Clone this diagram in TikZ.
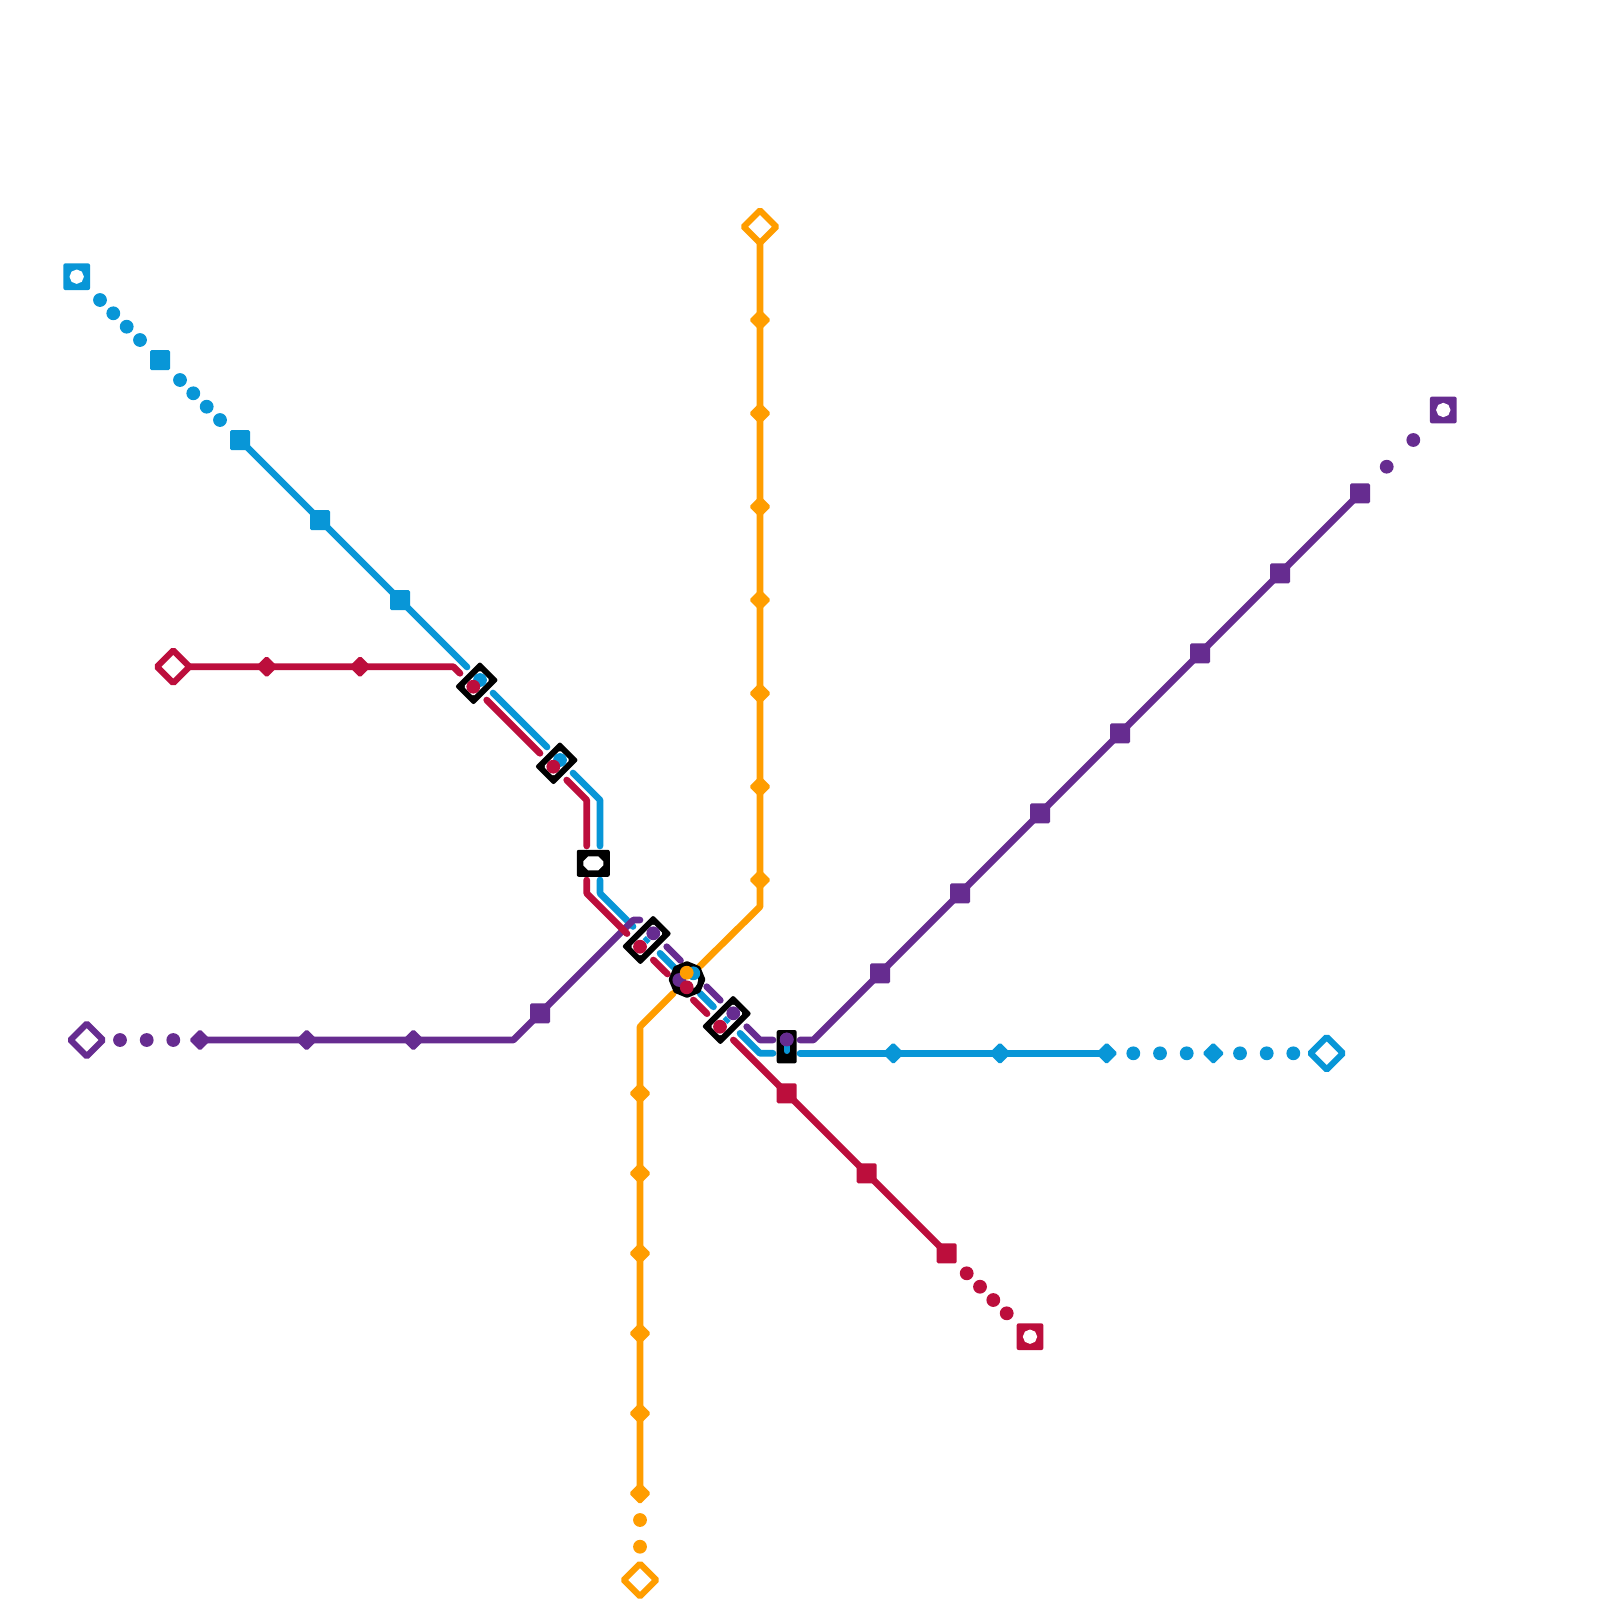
\documentclass[tikz,border=0pt]{standalone}
\usetikzlibrary{shapes.geometric}
\definecolor{lblue}{HTML}{0896D7}
\definecolor{lred}{HTML}{BC0E3C}
\definecolor{lpurple}{HTML}{662C90}
\definecolor{lorange}{HTML}{FF9D00}
\tikzset{
  route/.style={line width=6.67pt,line cap=round,line join=round},
  sq/.style={rectangle,fill=#1,draw=none,minimum size=20pt,inner sep=0pt,rounded corners=1.5pt},
  dia/.style={rectangle,fill=#1,draw=none,minimum size=15.5pt,inner sep=0pt,rounded corners=1.8pt,rotate=45},
  dot/.style={circle,fill=#1,draw=none,minimum size=13.8pt,inner sep=0pt},
  hdia/.style={rectangle,fill=white,draw=#1,line width=6.2pt,minimum size=23pt,inner sep=0pt,rounded corners=1.2pt,rotate=45},
  term/.style={rectangle,fill=#1,draw=none,minimum size=26.7pt,inner sep=0pt,rounded corners=2pt},
  termhole/.style={regular polygon,regular polygon sides=8,shape border rotate=22.5,fill=white,draw=none,minimum size=14.4pt,inner sep=0pt},
  stn/.style={rectangle,fill=black,draw=none,inner sep=0pt,rounded corners=2pt},
  stnhole/.style={rectangle,fill=white,draw=none,inner sep=0pt,rounded corners=1.5pt},
}
\begin{document}
\begin{tikzpicture}[x=1pt,y=-1pt]
\useasboundingbox (0,0) rectangle (1600,1600);
\fill[white] (0,0) rectangle (1600,1600);

% orange line
\coordinate (o1) at (760,226.7);
\coordinate (o2) at (760,906.7);
\coordinate (o3) at (699.3,966.7);
\coordinate (o4) at (673.3,993.3);
\coordinate (o5) at (640,1026.7);
\coordinate (o6) at (640,1493.3);
\draw[route,lorange] (o1) -- (o2) -- (o3);
\draw[route,lorange] (o4) -- (o5) -- (o6);

% blue line
\coordinate (b1) at (240,440);
\coordinate (b2) at (467,667);
\coordinate (b3) at (493,693);
\coordinate (b4) at (547,747);
\coordinate (b5) at (573,773);
\coordinate (b6) at (600,800);
\coordinate (b7) at (600,846);
\coordinate (b8) at (600,880);
\coordinate (b9) at (600,893.3);
\coordinate (b10) at (633,926.5);
\coordinate (b11) at (660,953.3);
\coordinate (b12) at (674,967.3);
\coordinate (b13) at (700,993.3);
\coordinate (b14) at (713.5,1006.8);
\coordinate (b15) at (740,1033.3);
\coordinate (b16) at (760,1053.3);
\coordinate (b17) at (773,1053.3);
\coordinate (b18) at (800,1053.3);
\coordinate (b19) at (1106.7,1053.3);
\draw[route,lblue] (b1) -- (b2);
\draw[route,lblue] (b3) -- (b4);
\draw[route,lblue] (b5) -- (b6) -- (b7);
\draw[route,lblue] (b8) -- (b9) -- (b10);
\draw[route,lblue] (b11) -- (b12);
\draw[route,lblue] (b13) -- (b14);
\draw[route,lblue] (b15) -- (b16) -- (b17);
\draw[route,lblue] (b18) -- (b19);

% purple line
\coordinate (p1) at (200,1040);
\coordinate (p2) at (513.3,1040);
\coordinate (p3) at (633.3,920);
\coordinate (p4) at (640,920);
\coordinate (p5) at (666.7,946.7);
\coordinate (p6) at (680.5,960.5);
\coordinate (p7) at (706.7,986.7);
\coordinate (p8) at (720.3,1000.3);
\coordinate (p9) at (746.7,1026.7);
\coordinate (p10) at (760,1040);
\coordinate (p11) at (773,1040);
\coordinate (p12) at (800,1040);
\coordinate (p13) at (813.3,1040);
\coordinate (p14) at (1360,493.3);
\draw[route,lpurple] (p1) -- (p2) -- (p3) -- (p4);
\draw[route,lpurple] (p5) -- (p6);
\draw[route,lpurple] (p7) -- (p8);
\draw[route,lpurple] (p9) -- (p10) -- (p11);
\draw[route,lpurple] (p12) -- (p13) -- (p14);

% red line
\coordinate (r1) at (173.3,666.7);
\coordinate (r2) at (453.3,666.7);
\coordinate (r3) at (460,673.3);
\coordinate (r4) at (486.7,700);
\coordinate (r5) at (540,753.3);
\coordinate (r6) at (566.7,780);
\coordinate (r7) at (586.7,800);
\coordinate (r8) at (586.7,846);
\coordinate (r9) at (586.7,880);
\coordinate (r10) at (586.7,893.3);
\coordinate (r11) at (627,933.6);
\coordinate (r12) at (653.3,960);
\coordinate (r13) at (667.5,974);
\coordinate (r14) at (693.3,1000);
\coordinate (r15) at (707,1013.7);
\coordinate (r16) at (733.3,1040);
\coordinate (r17) at (946.7,1253.3);
\draw[route,lred] (r1) -- (r2) -- (r3);
\draw[route,lred] (r4) -- (r5);
\draw[route,lred] (r6) -- (r7) -- (r8);
\draw[route,lred] (r9) -- (r10) -- (r11);
\draw[route,lred] (r12) -- (r13);
\draw[route,lred] (r14) -- (r15);
\draw[route,lred] (r16) -- (r17);

% blue stops
\node[term=lblue] (bt) at (76.7,276.7) {};
\node[termhole] (bth) at (bt) {};
\foreach \x/\y [count=\i] in {100/300,113.3/313.3,126.7/326.7,140/340,180/380,193.3/393.3,206.7/406.7,220/420,1133.3/1053.3,1160/1053.3,1186.7/1053.3,1240/1053.3,1266.7/1053.3,1293.3/1053.3}
  \node[dot=lblue] (bd\i) at (\x,\y) {};
\foreach \x/\y [count=\i] in {160/360,240/440,320/520,400/600}
  \node[sq=lblue] (bs\i) at (\x,\y) {};
\foreach \x [count=\i] in {893.3,1000,1106.7,1213.3}
  \node[dia=lblue] (bm\i) at (\x,1053.3) {};
\node[hdia=lblue] (bh) at (1326.7,1053.3) {};

% red stops
\node[hdia=lred] (rh) at (173.3,666.7) {};
\foreach \x [count=\i] in {266.7,360}
  \node[dia=lred] (rm\i) at (\x,666.7) {};
\foreach \x/\y [count=\i] in {786.7/1093.3,866.7/1173.3,946.7/1253.3}
  \node[sq=lred] (rs\i) at (\x,\y) {};
\foreach \x/\y [count=\i] in {966.7/1273.3,980/1286.7,993.3/1300,1006.7/1313.3}
  \node[dot=lred] (rd\i) at (\x,\y) {};
\node[term=lred] (rt) at (1030,1336.7) {};
\node[termhole] (rth) at (rt) {};

% purple stops
\node[hdia=lpurple] (ph) at (86.7,1040) {};
\foreach \x [count=\i] in {120,146.7,173.3}
  \node[dot=lpurple] (pd\i) at (\x,1040) {};
\foreach \x [count=\i] in {200,306.7,413.3}
  \node[dia=lpurple] (pm\i) at (\x,1040) {};
\foreach \x/\y [count=\i] in {540/1013.3,880/973.3,960/893.3,1040/813.3,1120/733.3,1200/653.3,1280/573.3,1360/493.3}
  \node[sq=lpurple] (ps\i) at (\x,\y) {};
\foreach \x/\y [count=\i] in {1386.7/466.7,1413.3/440}
  \node[dot=lpurple] (pe\i) at (\x,\y) {};
\node[term=lpurple] (pt) at (1443.3,410) {};
\node[termhole] (pth) at (pt) {};

% orange stops
\node[hdia=lorange] (oh1) at (760,226.7) {};
\foreach \y [count=\i] in {320,413.3,506.7,600,693.3,786.7,880}
  \node[dia=lorange] (om\i) at (760,\y) {};
\foreach \y [count=\i] in {1093.3,1173.3,1253.3,1333.3,1413.3,1493.3}
  \node[dia=lorange] (on\i) at (640,\y) {};
\foreach \y [count=\i] in {1520,1546.7}
  \node[dot=lorange] (od\i) at (640,\y) {};
\node[hdia=lorange] (oh2) at (640,1580) {};

% interchange 1
\node[stn,rotate=45,minimum width=35pt,minimum height=26pt] (x1) at (476.7,683.3) {};
\node[stnhole,rotate=45,minimum width=23pt,minimum height=13.6pt] (x1h) at (x1) {};
\node[dot=lblue] (x1b) at (480,680) {};
\node[dot=lred] (x1r) at (473.3,686.7) {};
% interchange 2
\node[stn,rotate=45,minimum width=35pt,minimum height=26pt] (x2) at (556.7,763.3) {};
\node[stnhole,rotate=45,minimum width=23pt,minimum height=13.6pt] (x2h) at (x2) {};
\node[dot=lblue] (x2b) at (560,760) {};
\node[dot=lred] (x2r) at (553.3,766.7) {};
% interchange 3
\node[stn,minimum width=33pt,minimum height=27pt] (x3) at (593.3,863.3) {};
\fill[white,shift={(x3)}] (-10,-2) -- (-5,-7) -- (5,-7) -- (10,-2) -- (10,2) -- (5,7) -- (-5,7) -- (-10,2) -- cycle;
% interchange 4
\node[stn,rotate=45,minimum width=44pt,minimum height=26pt] (x4) at (646.7,940) {};
\node[stnhole,rotate=45,minimum width=32pt,minimum height=13.6pt] (x4h) at (x4) {};
\node[dot=lred] (x4r) at (640,946.7) {};
\node[dot=lpurple] (x4p) at (653.3,933.3) {};
\draw[line width=6.67pt,lblue] (x4r) -- (x4p);
% interchange 5
\node[stn,regular polygon,regular polygon sides=8,shape border rotate=22.5,minimum size=37pt,rounded corners=1pt] (x5) at (687,979.5) {};
\node[circle,fill=white,minimum size=20pt,inner sep=0pt] (x5h) at (688,980) {};
\node[dot=lblue] (x5b) at (693.3,973.3) {};
\node[dot=lpurple] (x5p) at (679.3,980) {};
\node[dot=lred] (x5r) at (686.7,987.3) {};
\node[dot=lorange] (x5o) at (686.7,972.7) {};
% interchange 6
\node[stn,rotate=45,minimum width=44pt,minimum height=26pt] (x6) at (726.7,1020) {};
\node[stnhole,rotate=45,minimum width=32pt,minimum height=13.6pt] (x6h) at (x6) {};
\node[dot=lred] (x6r) at (720,1026.7) {};
\node[dot=lpurple] (x6p) at (733.3,1013.3) {};
\draw[line width=6.67pt,lblue] (x6r) -- (x6p);
% interchange 7
\node[stn,minimum width=20pt,minimum height=33.3pt] (x7) at (786.7,1046.7) {};
\node[dot=lpurple] (x7p) at (786.7,1039.5) {};
\coordinate (x7e) at (786.7,1051);
\draw[line width=6pt,lblue,line cap=round] (x7p) -- (x7e);
\node[dot=lpurple] (x7q) at (x7p) {};
\end{tikzpicture}
\end{document}
